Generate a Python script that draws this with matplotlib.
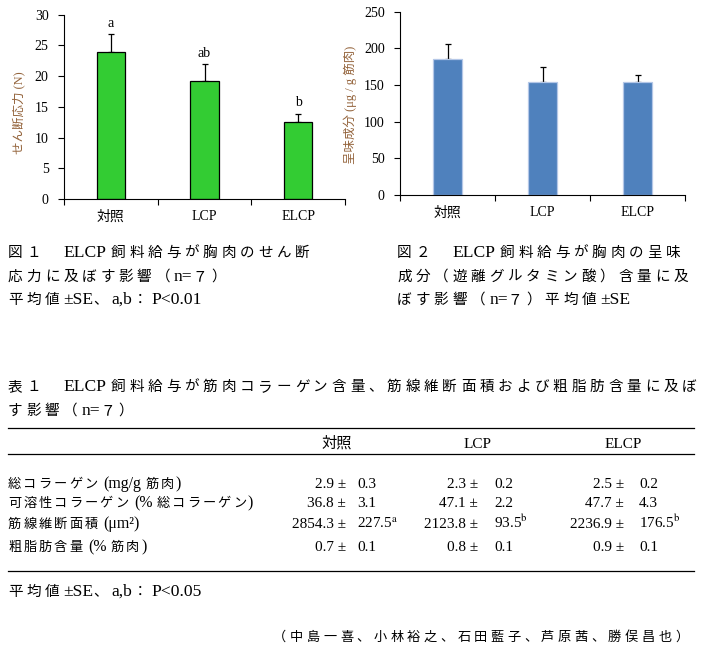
import re
import matplotlib
matplotlib.use("Agg")
import matplotlib.pyplot as plt
from matplotlib.lines import Line2D

W, H = 705, 648
FAM = ["Liberation Serif", "Noto Sans CJK JP"]
plt.rcParams["font.family"] = FAM
plt.rcParams["mathtext.fontset"] = "stix"

# chart data
groups = ["対照", "LCP", "ELCP"]
shear_mean = [23.9, 19.2, 12.6]
shear_se = [2.9, 2.7, 1.3]
shear_sig = ["a", "ab", "b"]
taste_mean = [185, 154, 154]
taste_se = [21, 21, 9]

# table data
table_rows = ["総コラーゲン (mg/g 筋肉)", "可溶性コラーゲン (% 総コラーゲン)",
              "筋線維断面積 (μm²)", "粗脂肪含量 (% 筋肉)"]
table_mean = [[2.9, 2.3, 2.5], [36.8, 47.1, 47.7], [2854.3, 2123.8, 2236.9], [0.7, 0.8, 0.9]]
table_se = [[0.3, 0.2, 0.2], [3.1, 2.2, 4.3], [227.5, 93.5, 176.5], [0.1, 0.1, 0.1]]
table_sup = [["", "", ""], ["", "", ""], ["a", "b", "b"], ["", "", ""]]

ASCII = r"[!-~±²μ]"


def px(x, y):
    return x / W, 1 - y / H


def spaced_text(fig, x, y, s, size, track, ascii_scale=1.2):
    # japanese text in the source has wide letter spacing, latin runs are set larger
    r = fig.canvas.get_renderer()
    for tok in re.findall(" +|" + ASCII + "+|.", s):
        if tok.startswith(" "):
            x += len(tok) * 0.25 * size * ascii_scale * 100 / 72
            continue
        latin = re.match(ASCII, tok) is not None
        fs = size * ascii_scale if latin else size
        t = fig.text(*px(x, y), tok, fontsize=fs, va="baseline", ha="left")
        x += t.get_window_extent(r).width
        if not latin:
            x += track


def bar_panel(ax, means, se, color, edge, ymax, step, ylabel, lab_xy):
    xs = [0.5, 1.5, 2.5]
    ax.bar(xs, means, width=0.3, color=color, edgecolor=edge, linewidth=0.9, zorder=2)
    ax.errorbar(xs, means, yerr=[[0] * 3, se], fmt="none", ecolor="black",
                elinewidth=0.9, capsize=2.5, capthick=0.9, zorder=1)
    ax.set_xlim(0, 3)
    ax.set_ylim(0, ymax)
    ax.set_yticks(range(0, ymax + 1, step))
    ax.set_xticks([0, 1, 2, 3])
    ax.set_xticklabels([])
    ax.set_xticks(xs, minor=True)
    ax.set_xticklabels(groups, minor=True)
    ax.tick_params(axis="x", which="minor", length=0, pad=8, labelsize=10)
    ax.tick_params(axis="both", which="major", length=4, width=0.8, labelsize=10)
    ax.tick_params(axis="y", pad=7)
    for s in ["top", "right"]:
        ax.spines[s].set_visible(False)
    for s in ["left", "bottom"]:
        ax.spines[s].set_linewidth(0.8)
    ax.set_ylabel(ylabel, fontsize=9, color="#94643C")
    ax.yaxis.set_label_coords(*lab_xy)
    return xs


fig = plt.figure(figsize=(W / 100, H / 100), dpi=100)

ax1 = fig.add_axes([64 / W, 1 - 199 / H, 281 / W, 184.3 / H])
xs = bar_panel(ax1, shear_mean, shear_se, "#33CC33", "black", 30, 5,
               "せん断応力 (N)", (-0.139, 0.467))
for x, m, e, lab in zip(xs, shear_mean, shear_se, shear_sig):
    ax1.annotate(lab, (x, m + e), xytext=(0, 3), textcoords="offset points",
                 ha="center", va="bottom", fontsize=10)

ax2 = fig.add_axes([400 / W, 1 - 195 / H, 285 / W, 183.3 / H])
bar_panel(ax2, taste_mean, taste_se, "#4F81BD", "#B4C7E7", 250, 50,
          "呈味成分 (μg / g 筋肉)", (-0.151, 0.49))

# figure captions
cap_size, cap_track = 10.5, 3.8
spaced_text(fig, 8, 257, "図１　ELCP 飼料給与が胸肉のせん断", cap_size, cap_track)
spaced_text(fig, 8, 281, "応力に及ぼす影響（n=７）", cap_size, cap_track)
spaced_text(fig, 8, 304, "平均値±SE、a,b：P<0.01", cap_size, cap_track)
spaced_text(fig, 397, 257, "図２　ELCP 飼料給与が胸肉の呈味", cap_size, cap_track)
spaced_text(fig, 397, 281, "成分（遊離グルタミン酸）含量に及", cap_size, cap_track)
spaced_text(fig, 397, 304, "ぼす影響（n=７）平均値±SE", cap_size, cap_track)

# table
spaced_text(fig, 8, 391, "表１　ELCP 飼料給与が筋肉コラーゲン含量、筋線維断面積および粗脂肪含量に及ぼ",
            cap_size, cap_track)
spaced_text(fig, 8, 415, "す影響（n=７）", cap_size, cap_track)

for y in [428, 454, 571]:
    fig.add_artist(Line2D([8 / W, 694 / W], [1 - y / H] * 2, color="black", lw=0.9))

head_x = [337, 478, 623]
pm_right = [346, 478, 624]
se_left = [357, 494, 639]
row_base = [488, 507, 528, 551]

for hx, g in zip(head_x, groups):
    fig.text(*px(hx, 448), g, fontsize=11, ha="center", va="baseline")

for i, row in enumerate(table_rows):
    spaced_text(fig, 8, row_base[i], row, 9.5, 2.0)
    for j in range(3):
        fig.text(*px(pm_right[j], row_base[i]), f"{table_mean[i][j]:.1f} ±",
                 fontsize=11, ha="right", va="baseline")
        se_txt = f"{table_se[i][j]:.1f}"
        if table_sup[i][j]:
            se_txt += r"$^{\mathrm{" + table_sup[i][j] + "}}$"
        fig.text(*px(se_left[j], row_base[i]), se_txt,
                 fontsize=11, ha="left", va="baseline")

spaced_text(fig, 8, 596, "平均値±SE、a,b：P<0.05", cap_size, cap_track)
spaced_text(fig, 273, 641, "（中島一喜、小林裕之、石田藍子、芦原茜、勝俣昌也）", 9.5, 3.5)

fig.savefig("out.png", dpi=100)
